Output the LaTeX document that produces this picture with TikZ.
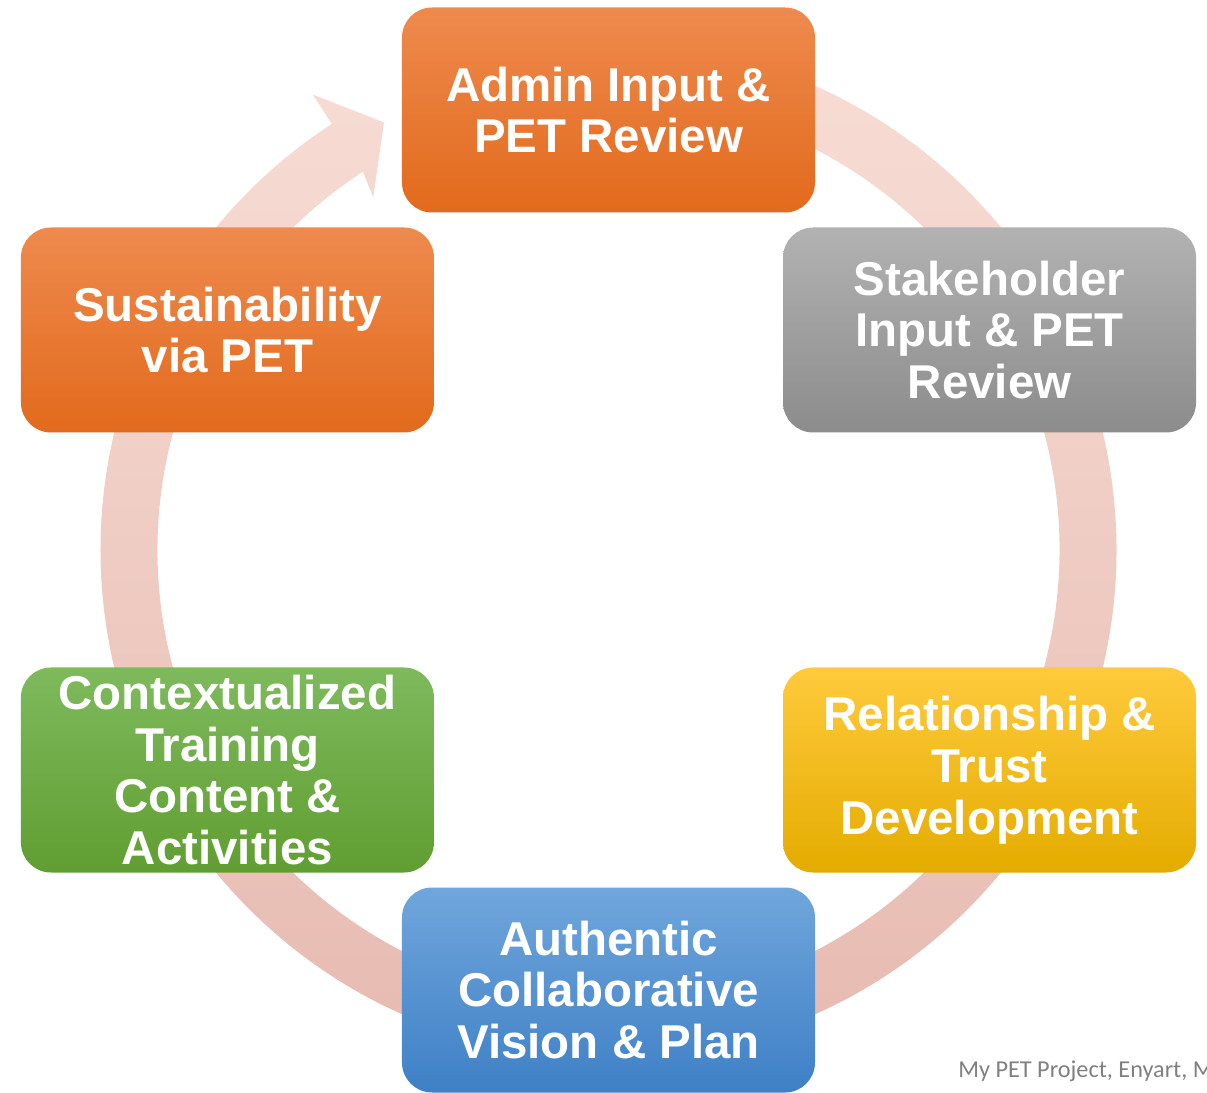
\documentclass[tikz,border=0pt]{standalone}
\usepackage{fontspec}
\setmainfont{Liberation Sans}
\newfontfamily\notefont{Carlito}
\usepackage{tikz}
\usetikzlibrary{positioning}

\definecolor{orangeTop}{RGB}{238,138,78}
\definecolor{orangeMid}{RGB}{244,122,36}
\definecolor{orangeBot}{RGB}{226,106,28}
\definecolor{grayTop}{RGB}{178,178,178}
\definecolor{grayMid}{RGB}{160,160,160}
\definecolor{grayBot}{RGB}{140,140,140}
\definecolor{yellowTop}{RGB}{255,202,60}
\definecolor{yellowMid}{RGB}{255,194,0}
\definecolor{yellowBot}{RGB}{228,172,0}
\definecolor{blueTop}{RGB}{112,166,220}
\definecolor{blueMid}{RGB}{84,148,212}
\definecolor{blueBot}{RGB}{62,128,198}
\definecolor{greenTop}{RGB}{126,186,92}
\definecolor{greenMid}{RGB}{112,174,66}
\definecolor{greenBot}{RGB}{96,158,50}
\definecolor{ringTop}{RGB}{248,222,214}
\definecolor{ringBot}{RGB}{230,186,176}
\definecolor{noteGray}{RGB}{128,128,128}

\begin{document}
\begin{tikzpicture}[
  stage/.style={rounded corners=0.6cm, minimum width=8.26cm, minimum height=4.1cm,
    align=center, text=white, inner sep=0pt,
    font=\fontsize{27}{29.5}\selectfont\bfseries},
  orangestage/.style={stage, top color=orangeTop, middle color=orangeMid, bottom color=orangeBot},
  graystage/.style={stage, top color=grayTop, middle color=grayMid, bottom color=grayBot},
  yellowstage/.style={stage, top color=yellowTop, middle color=yellowMid, bottom color=yellowBot},
  bluestage/.style={stage, top color=blueTop, middle color=blueMid, bottom color=blueBot},
  greenstage/.style={stage, top color=greenTop, middle color=greenMid, bottom color=greenBot},
  ring/.style={top color=ringTop, bottom color=ringBot},
  note/.style={font=\notefont\fontsize{13.8}{15}\selectfont, text=noteGray, inner sep=0pt}
]
\useasboundingbox (-12.17,11.0) rectangle (11.97,-10.86);

\coordinate (c) at (0,0);

% circular arrow behind the stages
\shade[ring] (95:10.16) arc[start angle=95, end angle=-237, radius=10.16]
  -- (-237:10.86) -- (117.7:9.66) -- (-236.3:8.48) -- (-237:9.02)
  arc[start angle=-237, end angle=95, radius=9.02] -- cycle;

\node[orangestage] (admin) at (90:8.8) {Admin Input \&\\PET Review};
\node[graystage] (stake) at (30:8.8) {Stakeholder\\Input \& PET\\Review};
\node[yellowstage] (trust) at (-30:8.8) {Relationship \&\\Trust\\Development};
\node[bluestage] (vision) at (-90:8.8) {Authentic\\Collaborative\\Vision \& Plan};
\node[greenstage] (training) at (210:8.8) {Contextualized\\Training\\Content \&\\Activities};
\node[orangestage] (sustain) at (150:8.8) {Sustainability\\via PET};

\node[note, anchor=base west] (credit) at (6.99,-10.54) {My PET Project, Enyart, M};

\end{tikzpicture}
\end{document}
